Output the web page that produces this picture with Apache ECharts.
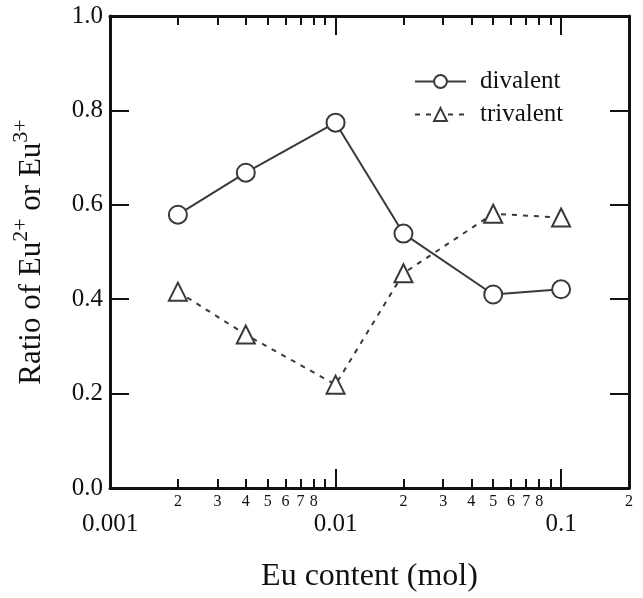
<!DOCTYPE html>
<html>
<head>
<meta charset="utf-8">
<script src="https://cdn.jsdelivr.net/npm/echarts@6/dist/echarts.min.js"></script>
<style>
  html, body { margin: 0; padding: 0; background: #fff; }
  #chart { width: 643px; height: 598px; }
</style>
</head>
<body>
<div id="chart"></div>
<script>
// Eu content (mol) for each sample
const euContent = [0.002, 0.004, 0.01, 0.02, 0.05, 0.1]
// ratio of Eu2+ / Eu3+
const divalent = [0.579, 0.668, 0.774, 0.539, 0.41, 0.421]
const trivalent = [0.416, 0.325, 0.219, 0.455, 0.581, 0.573]

// log axis ticks
const majorTicks = [0.01, 0.1]
const majorLabels = [0.001, 0.01, 0.1]
const minorTicks = [0.002, 0.003, 0.004, 0.005, 0.006, 0.007, 0.008, 0.009,
  0.02, 0.03, 0.04, 0.05, 0.06, 0.07, 0.08, 0.09]
const minorLabels = [0.002, 0.003, 0.004, 0.005, 0.006, 0.007, 0.008,
  0.02, 0.03, 0.04, 0.05, 0.06, 0.07, 0.08, 0.2]

const font = 'Liberation Serif'
const ink = '#111'
const markColor = '#363a3e'

const leadDigit = v => String(Math.round(v / Math.pow(10, Math.floor(Math.log10(v) + 1e-9))))

function logAxis(extra) {
  return Object.assign({
    type: 'log',
    logBase: 10,
    min: 0.001,
    max: 0.2,
    splitLine: {show: false},
    minorTick: {show: false},
    axisLine: {show: false},
    axisLabel: {show: false},
    axisTick: {show: false}
  }, extra)
}

const frameLine = {show: true, lineStyle: {color: ink, width: 3}}

const chart = echarts.init(document.getElementById('chart'))
chart.setOption({
  backgroundColor: '#fff',
  animation: false,
  grid: {left: 110, right: 14, top: 16, bottom: 107},
  legend: {
    orient: 'vertical',
    left: 414,
    top: 69,
    padding: 0,
    itemWidth: 51,
    itemHeight: 16,
    itemGap: 8,
    textStyle: {fontFamily: font, fontSize: 25, color: ink, lineHeight: 25, padding: [0, 0, 0, 9]},
    data: ['divalent', 'trivalent']
  },
  xAxis: [
    logAxis({
      position: 'bottom',
      axisLine: frameLine,
      axisTick: {show: true, inside: true, length: 9, customValues: minorTicks, lineStyle: {color: ink, width: 2}},
      axisLabel: {
        show: true, customValues: minorLabels, margin: 6,
        fontFamily: font, fontSize: 16, color: ink,
        formatter: leadDigit
      }
    }),
    logAxis({
      position: 'bottom',
      axisTick: {show: true, inside: true, length: 19, customValues: majorTicks, lineStyle: {color: ink, width: 2}},
      axisLabel: {
        show: true, customValues: majorLabels, margin: 24,
        fontFamily: font, fontSize: 25, color: ink,
        formatter: v => String(+v.toPrecision(3))
      },
      name: 'Eu content (mol)',
      nameLocation: 'middle',
      nameGap: 73,
      nameTextStyle: {fontFamily: font, fontSize: 32, color: ink}
    }),
    logAxis({
      position: 'top',
      axisLine: frameLine,
      axisTick: {show: true, inside: true, length: 9, customValues: minorTicks, lineStyle: {color: ink, width: 2}}
    }),
    logAxis({
      position: 'top',
      axisTick: {show: true, inside: true, length: 19, customValues: majorTicks, lineStyle: {color: ink, width: 2}}
    })
  ],
  yAxis: [
    {
      type: 'value',
      position: 'left',
      min: 0,
      max: 1,
      interval: 0.2,
      splitLine: {show: false},
      axisLine: frameLine,
      axisTick: {show: true, inside: true, length: 19, lineStyle: {color: ink, width: 2}},
      axisLabel: {margin: 7, fontFamily: font, fontSize: 25, color: ink, formatter: v => v.toFixed(1)},
      name: '{a|Ratio of Eu}{b|2+}{a| or Eu}{b|3+}',
      nameLocation: 'middle',
      nameGap: 63,
      nameTextStyle: {
        color: ink,
        rich: {
          a: {fontFamily: font, fontSize: 31, color: ink, lineHeight: 37, verticalAlign: 'bottom'},
          b: {fontFamily: font, fontSize: 22, color: ink, lineHeight: 22, verticalAlign: 'top'}
        }
      }
    },
    {
      type: 'value',
      position: 'right',
      min: 0,
      max: 1,
      interval: 0.2,
      splitLine: {show: false},
      axisLine: frameLine,
      axisTick: {show: true, inside: true, length: 19, lineStyle: {color: ink, width: 2}},
      axisLabel: {show: false}
    }
  ],
  series: [
    {
      name: 'divalent',
      type: 'line',
      xAxisIndex: 0,
      yAxisIndex: 0,
      data: euContent.map((x, i) => [x, divalent[i]]),
      symbol: 'emptyCircle',
      symbolSize: 18,
      lineStyle: {color: markColor, width: 2},
      itemStyle: {color: markColor, borderWidth: 2}
    },
    {
      name: 'trivalent',
      type: 'line',
      xAxisIndex: 0,
      yAxisIndex: 0,
      data: euContent.map((x, i) => [x, trivalent[i]]),
      symbol: 'emptyTriangle',
      symbolSize: 18,
      lineStyle: {color: markColor, width: 2, type: [5, 6]},
      itemStyle: {color: markColor, borderWidth: 2}
    }
  ]
})
</script>
</body>
</html>
